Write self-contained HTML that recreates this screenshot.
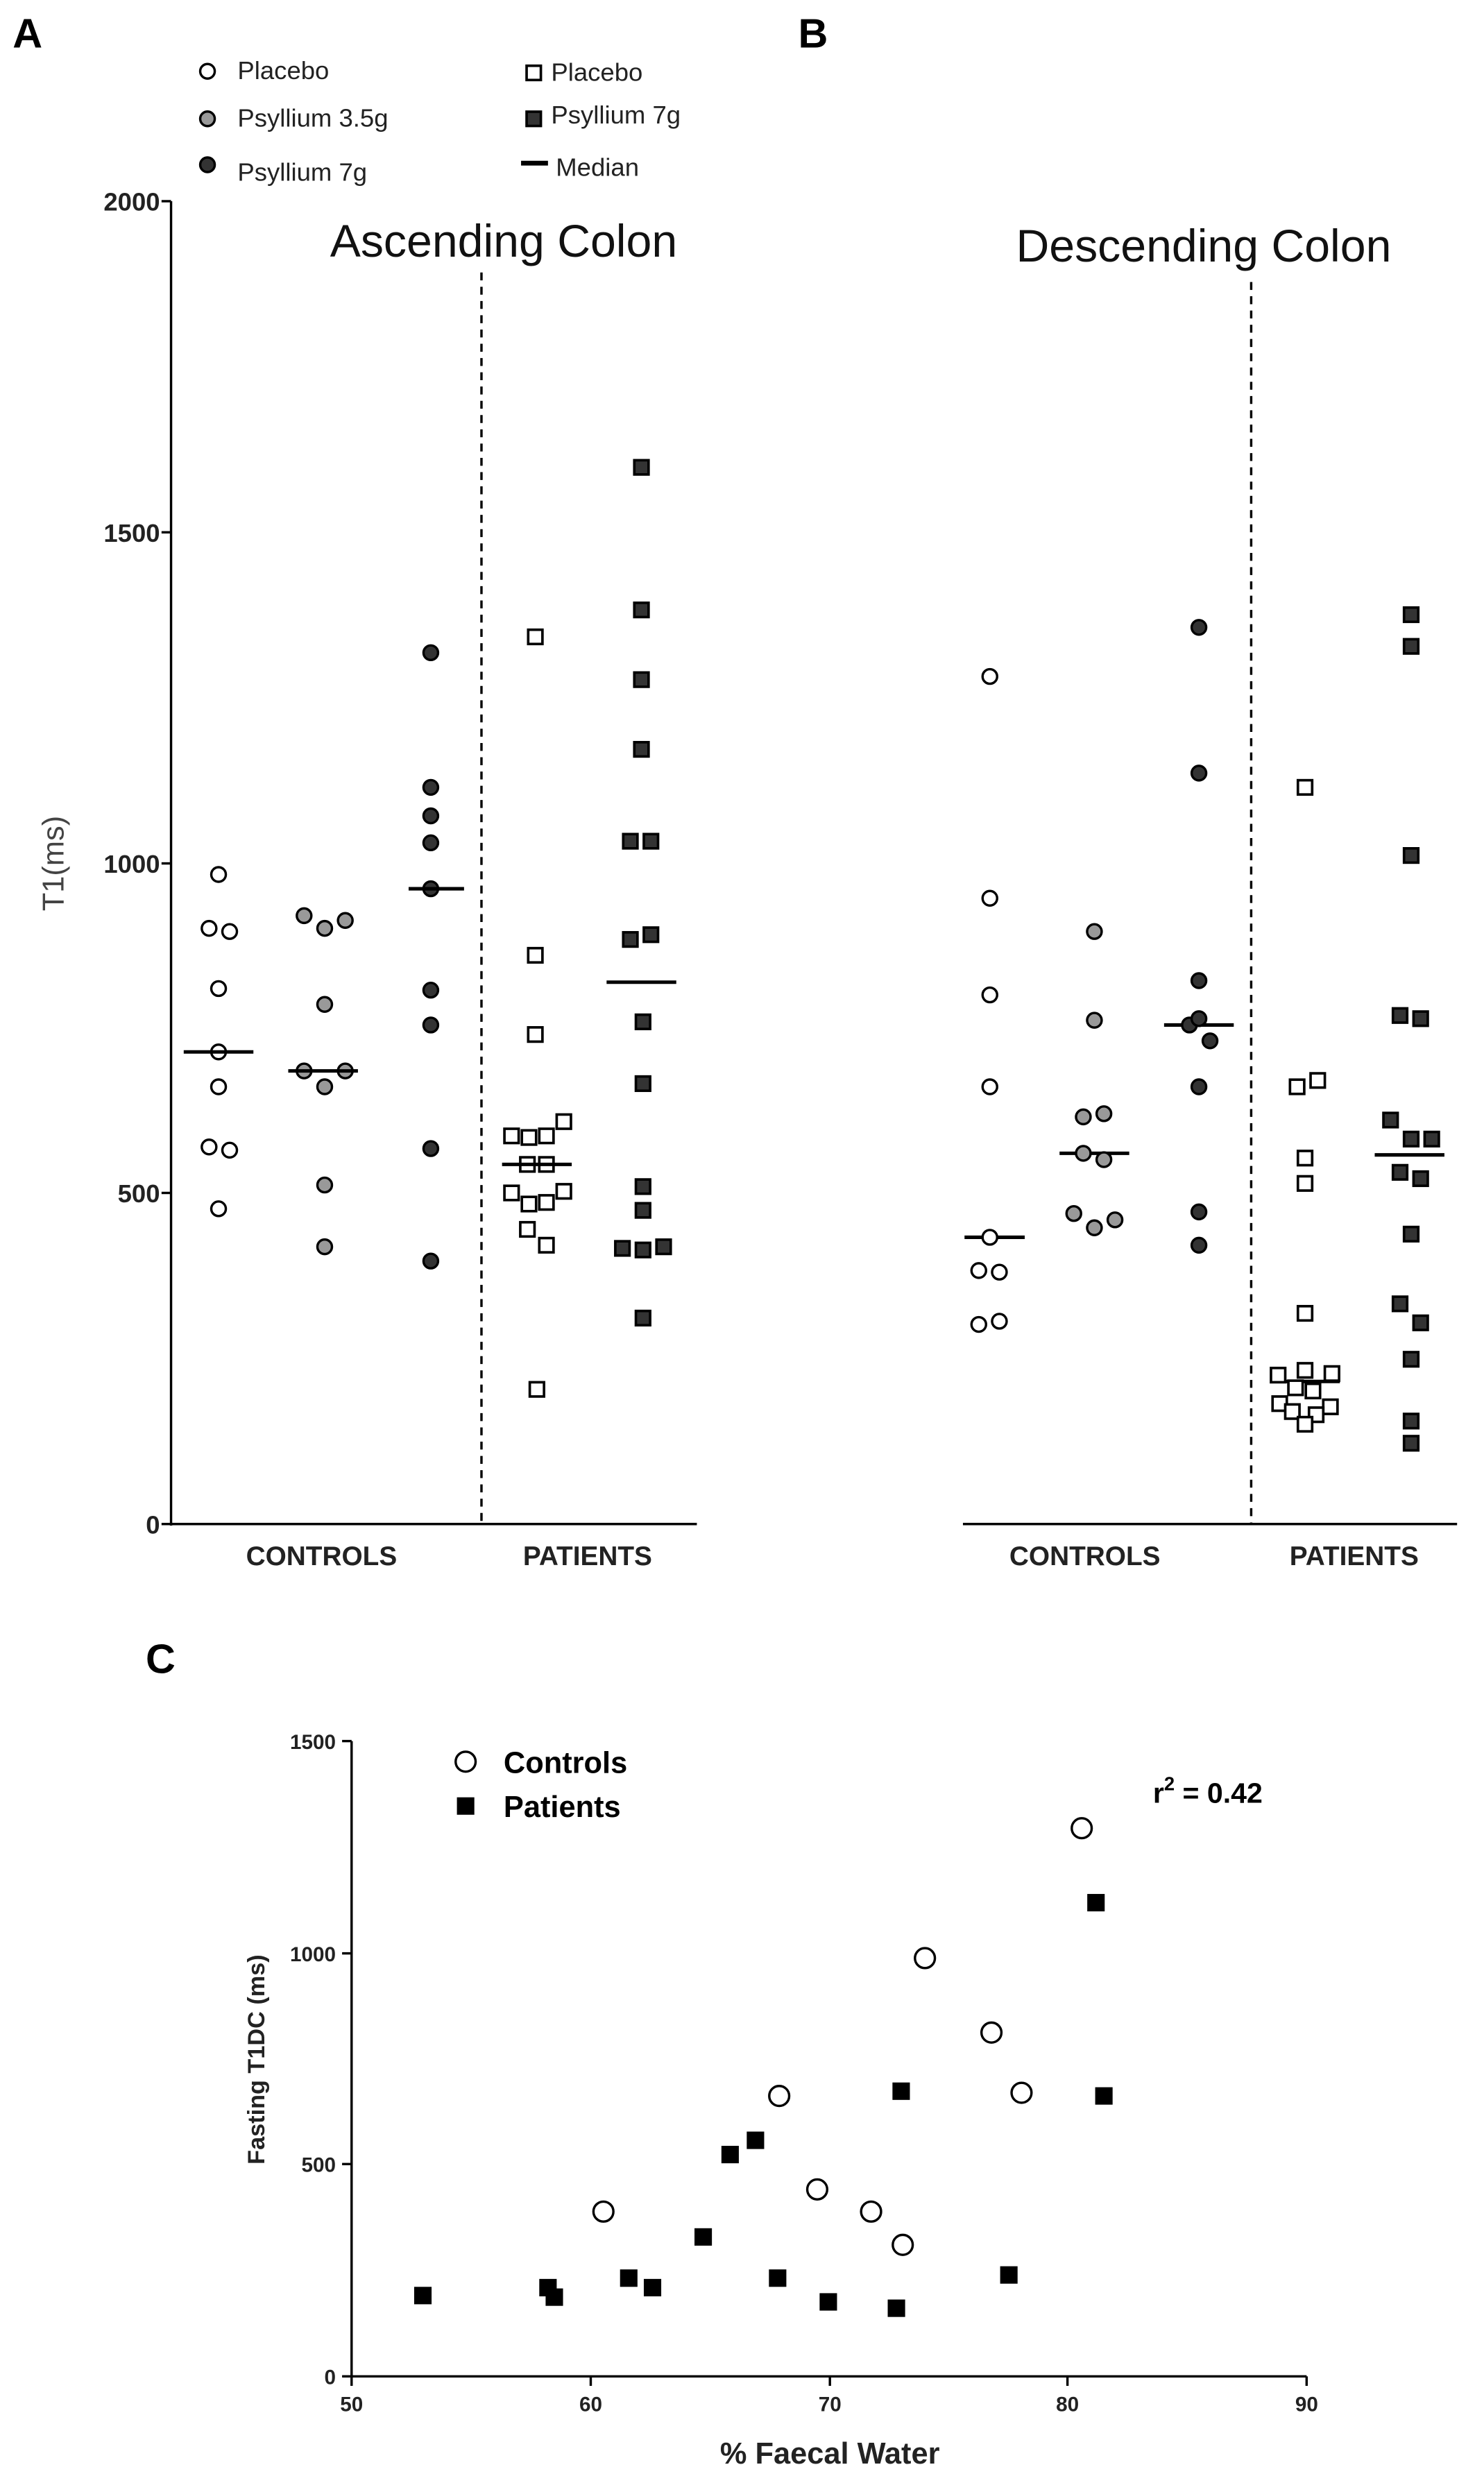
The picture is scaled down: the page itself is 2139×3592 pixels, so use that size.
<!DOCTYPE html>
<html><head><meta charset="utf-8"><style>html,body{margin:0;padding:0;background:#fff}svg{display:block}</style></head>
<body>
<svg width="2139" height="3592" viewBox="0 0 937 1573" preserveAspectRatio="none" xmlns="http://www.w3.org/2000/svg" font-family="'Liberation Sans', sans-serif">
<defs>
<g id="co"><circle r="4.6" fill="#fff" stroke="#000" stroke-width="1.5"/></g>
<g id="cg"><circle r="4.6" fill="#999" stroke="#000" stroke-width="1.5"/></g>
<g id="cd"><circle r="4.6" fill="#333" stroke="#000" stroke-width="1.5"/></g>
<g id="so"><rect x="-4.5" y="-4.5" width="9" height="9" fill="#fff" stroke="#000" stroke-width="1.6"/></g>
<g id="sd"><rect x="-4.5" y="-4.5" width="9" height="9" fill="#333" stroke="#000" stroke-width="1.6"/></g>
<g id="cc"><circle r="6.3" fill="#fff" stroke="#000" stroke-width="1.5"/></g>
<g id="sq"><rect x="-5.5" y="-5.5" width="11" height="11" fill="#000"/></g>
</defs>
<text x="8" y="30" font-size="26" font-weight="bold">A</text>
<text x="504" y="30" font-size="26" font-weight="bold">B</text>
<text x="92" y="1056" font-size="26" font-weight="bold">C</text>
<g font-size="16" fill="#222">
<use href="#co" x="131" y="45"/><text x="150" y="50">Placebo</text>
<use href="#cg" x="131" y="75"/><text x="150" y="80">Psyllium 3.5g</text>
<use href="#cd" x="131" y="104"/><text x="150" y="114">Psyllium 7g</text>
<use href="#so" x="337" y="46"/><text x="348" y="51">Placebo</text>
<use href="#sd" x="337" y="75"/><text x="348" y="78">Psyllium 7g</text>
<line x1="329" y1="103" x2="346" y2="103" stroke="#000" stroke-width="3"/><text x="351" y="111">Median</text>
</g>
<g stroke="#000" stroke-width="1.5" fill="none">
<line x1="108" y1="127" x2="108" y2="963"/>
<line x1="108" y1="962" x2="440" y2="962"/>
<line x1="608" y1="962" x2="920" y2="962"/>
<line x1="102" y1="127" x2="108" y2="127"/><line x1="102" y1="336" x2="108" y2="336"/>
<line x1="102" y1="545" x2="108" y2="545"/><line x1="102" y1="753" x2="108" y2="753"/>
<line x1="102" y1="962" x2="108" y2="962"/>
</g>
<line x1="304" y1="172" x2="304" y2="962" stroke="#000" stroke-width="1.5" stroke-dasharray="5,4"/>
<line x1="790" y1="178" x2="790" y2="962" stroke="#000" stroke-width="1.5" stroke-dasharray="5,4"/>
<g font-size="16" font-weight="bold" text-anchor="end" fill="#222">
<text x="101" y="133">2000</text><text x="101" y="342">1500</text><text x="101" y="551">1000</text><text x="101" y="759">500</text><text x="101" y="968">0</text>
</g>
<text transform="translate(40,545) rotate(-90)" font-size="19" text-anchor="middle" fill="#444">T1(ms)</text>
<g font-size="17" font-weight="bold" text-anchor="middle" fill="#222">
<text x="203" y="988">CONTROLS</text><text x="371" y="988">PATIENTS</text>
<text x="685" y="988">CONTROLS</text><text x="855" y="988">PATIENTS</text>
</g>
<text x="318" y="162" font-size="29" text-anchor="middle" fill="#111">Ascending Colon</text>
<text x="760" y="165" font-size="29" text-anchor="middle" fill="#111">Descending Colon</text>
<!-- A data -->
<g>
<use href="#co" x="138" y="552"/>
<use href="#co" x="132" y="586"/><use href="#co" x="145" y="588"/><use href="#co" x="138" y="624"/>
<use href="#co" x="138" y="664"/><use href="#co" x="138" y="686"/>
<use href="#co" x="132" y="724"/><use href="#co" x="145" y="726"/><use href="#co" x="138" y="763"/>
<use href="#cg" x="192" y="578"/><use href="#cg" x="205" y="586"/><use href="#cg" x="218" y="581"/>
<use href="#cg" x="205" y="634"/><use href="#cg" x="192" y="676"/><use href="#cg" x="218" y="676"/>
<use href="#cg" x="205" y="686"/><use href="#cg" x="205" y="748"/><use href="#cg" x="205" y="787"/>
<use href="#cd" x="272" y="412"/><use href="#cd" x="272" y="497"/><use href="#cd" x="272" y="515"/>
<use href="#cd" x="272" y="532"/><use href="#cd" x="272" y="561"/><use href="#cd" x="272" y="625"/>
<use href="#cd" x="272" y="647"/><use href="#cd" x="272" y="725"/><use href="#cd" x="272" y="796"/>
<use href="#so" x="338" y="402"/><use href="#so" x="338" y="603"/><use href="#so" x="338" y="653"/>
<use href="#so" x="356" y="708"/><use href="#so" x="323" y="717"/><use href="#so" x="334" y="718"/><use href="#so" x="345" y="717"/>
<use href="#so" x="333" y="735"/><use href="#so" x="345" y="735"/>
<use href="#so" x="323" y="753"/><use href="#so" x="334" y="760"/><use href="#so" x="345" y="759"/><use href="#so" x="356" y="752"/>
<use href="#so" x="333" y="776"/><use href="#so" x="345" y="786"/><use href="#so" x="339" y="877"/>
<use href="#sd" x="405" y="295"/><use href="#sd" x="405" y="385"/><use href="#sd" x="405" y="429"/><use href="#sd" x="405" y="473"/>
<use href="#sd" x="398" y="531"/><use href="#sd" x="411" y="531"/><use href="#sd" x="398" y="593"/><use href="#sd" x="411" y="590"/>
<use href="#sd" x="406" y="645"/><use href="#sd" x="406" y="684"/><use href="#sd" x="406" y="749"/><use href="#sd" x="406" y="764"/>
<use href="#sd" x="393" y="788"/><use href="#sd" x="406" y="789"/><use href="#sd" x="419" y="787"/><use href="#sd" x="406" y="832"/>
</g>
<g stroke="#000" stroke-width="2.2">
<line x1="116" y1="664" x2="160" y2="664"/><line x1="182" y1="676" x2="226" y2="676"/>
<line x1="258" y1="561" x2="293" y2="561"/><line x1="317" y1="735" x2="361" y2="735"/>
<line x1="383" y1="620" x2="427" y2="620"/>
<line x1="609" y1="781" x2="647" y2="781"/><line x1="669" y1="728" x2="713" y2="728"/>
<line x1="735" y1="647" x2="779" y2="647"/><line x1="803" y1="872" x2="846" y2="872"/>
<line x1="868" y1="729" x2="912" y2="729"/>
</g>
<!-- B data -->
<g>
<use href="#co" x="625" y="427"/><use href="#co" x="625" y="567"/><use href="#co" x="625" y="628"/>
<use href="#co" x="625" y="686"/><use href="#co" x="625" y="781"/><use href="#co" x="618" y="802"/>
<use href="#co" x="631" y="803"/><use href="#co" x="618" y="836"/><use href="#co" x="631" y="834"/>
<use href="#cg" x="691" y="588"/><use href="#cg" x="691" y="644"/><use href="#cg" x="684" y="705"/>
<use href="#cg" x="697" y="703"/><use href="#cg" x="684" y="728"/><use href="#cg" x="697" y="732"/>
<use href="#cg" x="678" y="766"/><use href="#cg" x="691" y="775"/><use href="#cg" x="704" y="770"/>
<use href="#cd" x="757" y="396"/><use href="#cd" x="757" y="488"/><use href="#cd" x="757" y="619"/>
<use href="#cd" x="751" y="647"/><use href="#cd" x="757" y="643"/><use href="#cd" x="764" y="657"/>
<use href="#cd" x="757" y="686"/><use href="#cd" x="757" y="765"/><use href="#cd" x="757" y="786"/>
<use href="#so" x="824" y="497"/><use href="#so" x="832" y="682"/><use href="#so" x="819" y="686"/>
<use href="#so" x="824" y="731"/><use href="#so" x="824" y="747"/><use href="#so" x="824" y="829"/>
<use href="#so" x="807" y="868"/><use href="#so" x="824" y="865"/><use href="#so" x="841" y="867"/>
<use href="#so" x="818" y="876"/><use href="#so" x="829" y="878"/>
<use href="#so" x="808" y="886"/><use href="#so" x="840" y="888"/>
<use href="#so" x="816" y="891"/><use href="#so" x="831" y="893"/><use href="#so" x="824" y="899"/>
<use href="#sd" x="891" y="388"/><use href="#sd" x="891" y="408"/><use href="#sd" x="891" y="540"/>
<use href="#sd" x="884" y="641"/><use href="#sd" x="897" y="643"/><use href="#sd" x="878" y="707"/>
<use href="#sd" x="891" y="719"/><use href="#sd" x="904" y="719"/><use href="#sd" x="884" y="740"/>
<use href="#sd" x="897" y="744"/><use href="#sd" x="891" y="779"/><use href="#sd" x="884" y="823"/>
<use href="#sd" x="897" y="835"/><use href="#sd" x="891" y="858"/><use href="#sd" x="891" y="897"/><use href="#sd" x="891" y="911"/>
</g>
<!-- panel C -->
<g stroke="#000" stroke-width="1.5">
<line x1="222" y1="1099" x2="222" y2="1500"/><line x1="222" y1="1500" x2="825" y2="1500"/>
<line x1="216" y1="1099" x2="222" y2="1099"/><line x1="216" y1="1233" x2="222" y2="1233"/>
<line x1="216" y1="1366" x2="222" y2="1366"/><line x1="216" y1="1500" x2="222" y2="1500"/>
<line x1="222" y1="1500" x2="222" y2="1506"/><line x1="373" y1="1500" x2="373" y2="1506"/>
<line x1="524" y1="1500" x2="524" y2="1506"/><line x1="674" y1="1500" x2="674" y2="1506"/>
<line x1="825" y1="1500" x2="825" y2="1506"/>
</g>
<g font-size="13" font-weight="bold" fill="#222">
<g text-anchor="end"><text x="212" y="1104">1500</text><text x="212" y="1238">1000</text><text x="212" y="1371">500</text><text x="212" y="1505">0</text></g>
<g text-anchor="middle"><text x="222" y="1522">50</text><text x="373" y="1522">60</text><text x="524" y="1522">70</text><text x="674" y="1522">80</text><text x="825" y="1522">90</text></g>
</g>
<text x="524" y="1555" font-size="19" font-weight="bold" text-anchor="middle" fill="#222">% Faecal Water</text>
<text transform="translate(167,1300) rotate(-90)" font-size="15" font-weight="bold" text-anchor="middle" fill="#222">Fasting T1DC (ms)</text>
<use href="#cc" x="294" y="1112"/><text x="318" y="1119" font-size="19" font-weight="bold">Controls</text>
<use href="#sq" x="294" y="1140"/><text x="318" y="1147" font-size="19" font-weight="bold">Patients</text>
<text x="728" y="1138" font-size="18" font-weight="bold">r<tspan font-size="12" dy="-8">2</tspan><tspan dy="8"> = 0.42</tspan></text>
<g>
<use href="#cc" x="381" y="1396"/><use href="#cc" x="516" y="1382"/><use href="#cc" x="492" y="1323"/>
<use href="#cc" x="584" y="1236"/><use href="#cc" x="550" y="1396"/><use href="#cc" x="570" y="1417"/>
<use href="#cc" x="626" y="1283"/><use href="#cc" x="645" y="1321"/><use href="#cc" x="683" y="1154"/>
<use href="#sq" x="267" y="1449"/><use href="#sq" x="346" y="1444"/><use href="#sq" x="350" y="1450"/>
<use href="#sq" x="397" y="1438"/><use href="#sq" x="412" y="1444"/><use href="#sq" x="444" y="1412"/>
<use href="#sq" x="461" y="1360"/><use href="#sq" x="477" y="1351"/><use href="#sq" x="491" y="1438"/>
<use href="#sq" x="523" y="1453"/><use href="#sq" x="566" y="1457"/><use href="#sq" x="569" y="1320"/>
<use href="#sq" x="637" y="1436"/><use href="#sq" x="692" y="1201"/><use href="#sq" x="697" y="1323"/>
</g>
</svg>
</body></html>
